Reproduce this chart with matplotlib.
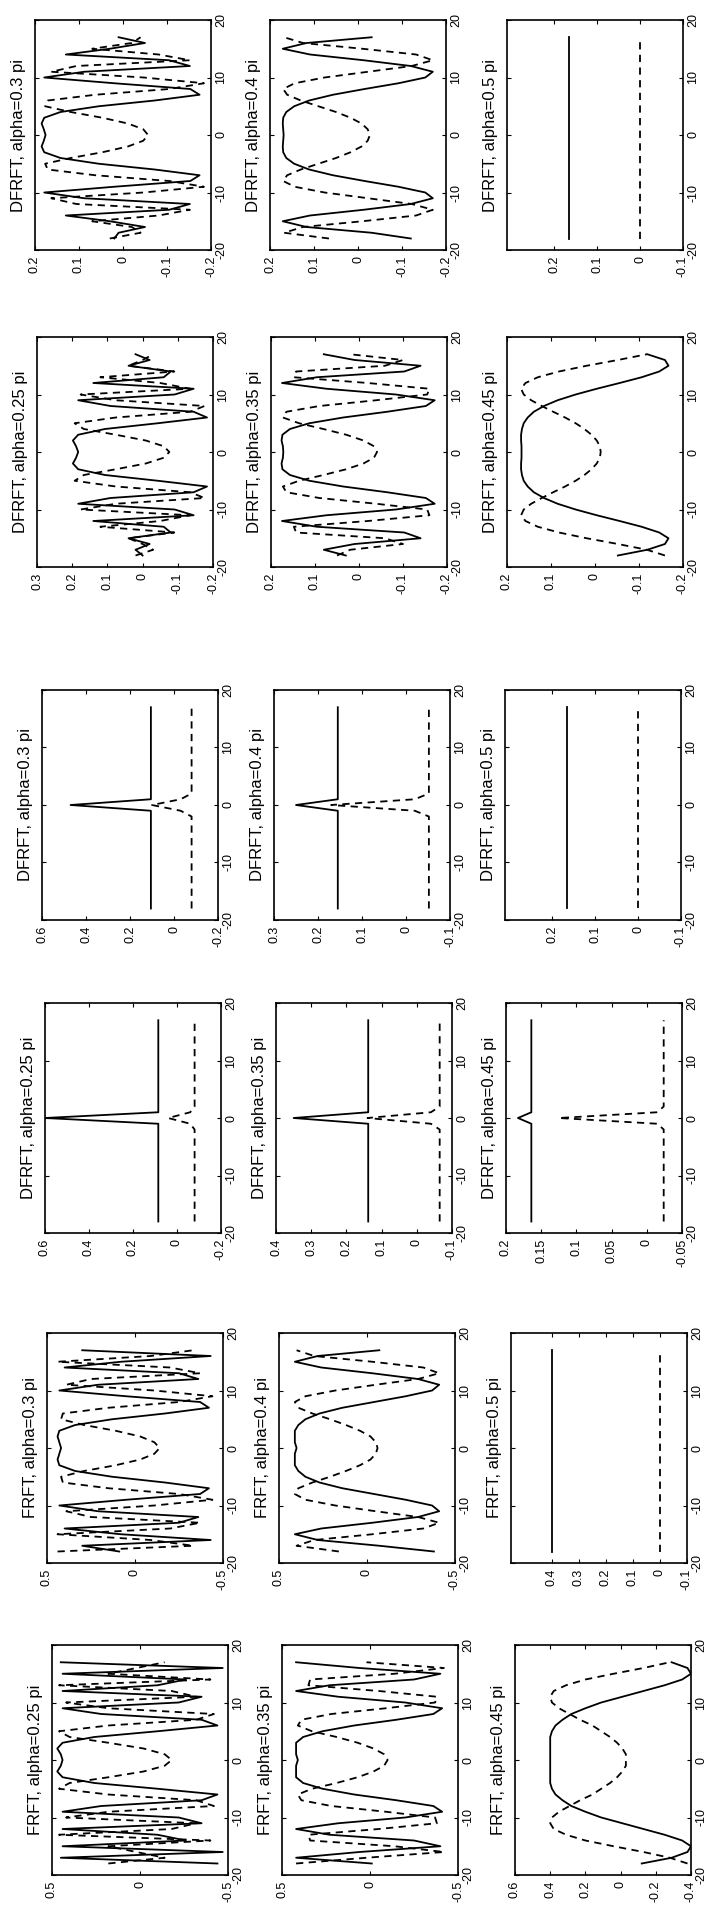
import numpy as np
import matplotlib.pyplot as plt

plt.rcParams['font.family'] = ['Liberation Sans', 'DejaVu Sans']

# sample index along the signal axis
x = list(range(-18, 18))

# ---- FRFT (continuous kernel), real = solid, imag = dashed ----
frft25_re = [-0.44, 0.45, -0.47, 0.44, -0.26, -0.10, 0.44, -0.35, -0.22, 0.44, 0.22, -0.35, -0.44, -0.10, 0.26, 0.44, 0.47, 0.45,
             0.44,
             0.45, 0.47, 0.44, 0.26, -0.10, -0.44, -0.35, 0.22, 0.44, -0.22, -0.35, 0.44, -0.10, -0.26, 0.44, -0.47, 0.45]
frft25_im = [0.18, -0.14, 0.02, 0.18, -0.40, 0.46, -0.18, -0.32, 0.42, 0.18, -0.42, -0.32, 0.18, 0.46, 0.40, 0.18, -0.02, -0.14,
             -0.18,
             -0.14, -0.02, 0.18, 0.40, 0.46, 0.18, -0.32, -0.42, 0.18, 0.42, -0.32, -0.18, 0.46, -0.40, 0.18, 0.02, -0.14]
frft30_re = [0.09, 0.30, -0.43, 0.08, 0.40, -0.25, -0.36, 0.21, 0.43, 0.05, -0.37, -0.42, -0.17, 0.13, 0.34, 0.43, 0.44, 0.43,
             0.42,
             0.43, 0.44, 0.43, 0.34, 0.13, -0.17, -0.42, -0.37, 0.05, 0.43, 0.21, -0.36, -0.25, 0.40, 0.08, -0.43, 0.30]
frft30_im = [0.44, -0.33, -0.09, 0.44, -0.20, -0.37, 0.25, 0.39, -0.11, -0.44, -0.25, 0.15, 0.41, 0.42, 0.29, 0.11, -0.03, -0.11,
             -0.14,
             -0.11, -0.03, 0.11, 0.29, 0.42, 0.41, 0.15, -0.25, -0.44, -0.11, 0.39, 0.25, -0.37, -0.20, 0.44, -0.09, -0.33]
frft35_re = [-0.01, 0.42, 0.06, -0.40, -0.25, 0.23, 0.42, 0.18, -0.20, -0.41, -0.36, -0.15, 0.09, 0.27, 0.38, 0.42, 0.42, 0.42,
             0.41,
             0.42, 0.42, 0.42, 0.38, 0.27, 0.09, -0.15, -0.36, -0.41, -0.20, 0.18, 0.42, 0.23, -0.25, -0.40, 0.06, 0.42]
frft35_im = [0.42, 0.02, -0.42, -0.14, 0.34, 0.35, -0.05, -0.38, -0.37, -0.09, 0.22, 0.39, 0.41, 0.33, 0.19, 0.07, -0.02, -0.08,
             -0.10,
             -0.08, -0.02, 0.07, 0.19, 0.33, 0.41, 0.39, 0.22, -0.09, -0.37, -0.38, -0.05, 0.35, 0.34, -0.14, -0.42, 0.02]
frft40_re = [-0.38, -0.07, 0.28, 0.41, 0.26, -0.03, -0.29, -0.41, -0.37, -0.22, -0.04, 0.14, 0.27, 0.35, 0.39, 0.41, 0.41, 0.41,
             0.40,
             0.41, 0.41, 0.41, 0.39, 0.35, 0.27, 0.14, -0.04, -0.22, -0.37, -0.41, -0.29, -0.03, 0.26, 0.41, 0.28, -0.07]
frft40_im = [0.16, 0.40, 0.30, -0.03, -0.32, -0.41, -0.29, -0.05, 0.18, 0.35, 0.41, 0.39, 0.31, 0.21, 0.12, 0.04, -0.02, -0.05,
             -0.06,
             -0.05, -0.02, 0.04, 0.12, 0.21, 0.31, 0.39, 0.41, 0.35, 0.18, -0.05, -0.29, -0.41, -0.32, -0.03, 0.30, 0.40]
frft45_re = [-0.12, -0.29, -0.38, -0.40, -0.35, -0.25, -0.13, -0.01, 0.11, 0.20, 0.28, 0.33, 0.37, 0.39, 0.40, 0.40, 0.40, 0.40,
             0.40,
             0.40, 0.40, 0.40, 0.40, 0.39, 0.37, 0.33, 0.28, 0.20, 0.11, -0.01, -0.13, -0.25, -0.35, -0.40, -0.38, -0.29]
frft45_im = [-0.38, -0.28, -0.13, 0.04, 0.20, 0.31, 0.38, 0.40, 0.39, 0.35, 0.29, 0.23, 0.16, 0.11, 0.06, 0.02, -0.01, -0.03,
             -0.03,
             -0.03, -0.01, 0.02, 0.06, 0.11, 0.16, 0.23, 0.29, 0.35, 0.39, 0.40, 0.38, 0.31, 0.20, 0.04, -0.13, -0.28]
frft50_re = [0.40] * 36
frft50_im = [0.0] * 36

# ---- DFRFT, first kind (spike + flat) ----
dsp25_re = [0.085] * 18 + [0.60] + [0.085] * 17
dsp25_im = [-0.08] * 17 + [-0.06, 0.04, -0.06] + [-0.08] * 16
dsp30_re = [0.105] * 18 + [0.47] + [0.105] * 17
dsp30_im = [-0.08] * 17 + [-0.03, 0.10, -0.03] + [-0.08] * 16
dsp35_re = [0.138] * 18 + [0.35] + [0.138] * 17
dsp35_im = [-0.065] * 17 + [-0.04, 0.14, -0.04] + [-0.065] * 16
dsp40_re = [0.155] * 18 + [0.25] + [0.155] * 17
dsp40_im = [-0.052] * 17 + [-0.02, 0.17, -0.02] + [-0.052] * 16
dsp45_re = [0.164] * 18 + [0.183] + [0.164] * 17
dsp45_im = [-0.024] * 17 + [-0.015, 0.125, -0.015] + [-0.024] * 16
dflat_re = [0.1667] * 36
dflat_im = [0.0] * 36

# ---- DFRFT, second kind (chirp-like) ----
dch25_re = [0.000, 0.020, -0.020, 0.040, -0.080, -0.060, 0.140, -0.145, -0.091, 0.183, 0.091, -0.145, -0.183, -0.043, 0.107, 0.183, 0.198, 0.189,
            0.183,
            0.189, 0.198, 0.183, 0.107, -0.043, -0.183, -0.145, 0.091, 0.183, -0.091, -0.145, 0.140, -0.060, -0.080, 0.040, -0.020, 0.020]
dch25_im = [0.020, -0.030, 0.000, 0.040, -0.090, 0.120, -0.050, -0.135, 0.176, 0.076, -0.176, -0.135, 0.076, 0.193, 0.167, 0.076, -0.009, -0.060,
            -0.076,
            -0.060, -0.009, 0.076, 0.167, 0.193, 0.076, -0.135, -0.176, 0.076, 0.176, -0.135, -0.050, 0.120, -0.090, 0.040, 0.000, -0.030]
dch30_re = [0.020, 0.010, -0.050, 0.030, 0.130, -0.105, -0.152, 0.088, 0.179, 0.020, -0.153, -0.174, -0.072, 0.055, 0.142, 0.179, 0.185, 0.180,
            0.176,
            0.180, 0.185, 0.179, 0.142, 0.055, -0.072, -0.174, -0.153, 0.020, 0.179, 0.088, -0.152, -0.105, 0.130, 0.030, -0.050, 0.010]
dch30_im = [0.030, -0.040, -0.020, 0.070, -0.081, -0.152, 0.106, 0.163, -0.047, -0.184, -0.105, 0.063, 0.171, 0.177, 0.119, 0.047, -0.011, -0.046,
            -0.057,
            -0.046, -0.011, 0.047, 0.119, 0.177, 0.171, 0.063, -0.105, -0.184, -0.047, 0.163, 0.106, -0.152, -0.081, 0.070, -0.020, -0.040]
dch35_re = [0.030, 0.080, 0.010, -0.140, -0.103, 0.096, 0.175, 0.074, -0.084, -0.172, -0.152, -0.064, 0.036, 0.113, 0.157, 0.174, 0.176, 0.173,
            0.172,
            0.173, 0.176, 0.174, 0.157, 0.113, 0.036, -0.064, -0.152, -0.172, -0.084, 0.074, 0.175, 0.096, -0.103, -0.140, 0.010, 0.080]
dch35_im = [0.050, 0.020, -0.100, -0.059, 0.143, 0.148, -0.020, -0.160, -0.155, -0.039, 0.090, 0.165, 0.173, 0.136, 0.081, 0.029, -0.010, -0.034,
            -0.041,
            -0.034, -0.010, 0.029, 0.081, 0.136, 0.173, 0.165, 0.090, -0.039, -0.155, -0.160, -0.020, 0.148, 0.143, -0.059, -0.100, 0.020]
dch40_re = [-0.120, -0.031, 0.117, 0.171, 0.109, -0.013, -0.120, -0.170, -0.153, -0.092, -0.015, 0.057, 0.111, 0.145, 0.163, 0.170, 0.171, 0.170,
            0.169,
            0.170, 0.171, 0.170, 0.163, 0.145, 0.111, 0.057, -0.015, -0.092, -0.153, -0.170, -0.120, -0.013, 0.109, 0.171, 0.117, -0.031]
dch40_im = [0.066, 0.168, 0.125, -0.010, -0.132, -0.170, -0.122, -0.023, 0.076, 0.144, 0.170, 0.161, 0.130, 0.090, 0.050, 0.017, -0.008, -0.022,
            -0.027,
            -0.022, -0.008, 0.017, 0.050, 0.090, 0.130, 0.161, 0.170, 0.144, 0.076, -0.023, -0.122, -0.170, -0.132, -0.010, 0.125, 0.168]
dch45_re = [-0.052, -0.119, -0.159, -0.167, -0.146, -0.106, -0.056, -0.004, 0.044, 0.085, 0.116, 0.139, 0.153, 0.162, 0.166, 0.168, 0.168, 0.167,
            0.167,
            0.167, 0.168, 0.168, 0.166, 0.162, 0.153, 0.139, 0.116, 0.085, 0.044, -0.004, -0.056, -0.106, -0.146, -0.167, -0.159, -0.119]
dch45_im = [-0.159, -0.118, -0.052, 0.019, 0.082, 0.130, 0.158, 0.168, 0.162, 0.145, 0.121, 0.095, 0.068, 0.044, 0.024, 0.008, -0.004, -0.011,
            -0.013,
            -0.011, -0.004, 0.008, 0.024, 0.044, 0.068, 0.095, 0.121, 0.145, 0.162, 0.168, 0.158, 0.130, 0.082, 0.019, -0.052, -0.118]

x_ticks = [-20, -10, 0, 10, 20]

# (title, solid, dashed, value range (left, right), value ticks) per row, 3 columns each
panels = [
    [("DFRFT, alpha=0.3 pi", dch30_re, dch30_im, (0.2, -0.2), [0.2, 0.1, 0, -0.1, -0.2]),
     ("DFRFT, alpha=0.4 pi", dch40_re, dch40_im, (0.2, -0.2), [0.2, 0.1, 0, -0.1, -0.2]),
     ("DFRFT, alpha=0.5 pi", dflat_re, dflat_im, (0.31, -0.1), [0.2, 0.1, 0, -0.1])],
    [("DFRFT, alpha=0.25 pi", dch25_re, dch25_im, (0.3, -0.2), [0.3, 0.2, 0.1, 0, -0.1, -0.2]),
     ("DFRFT, alpha=0.35 pi", dch35_re, dch35_im, (0.2, -0.2), [0.2, 0.1, 0, -0.1, -0.2]),
     ("DFRFT, alpha=0.45 pi", dch45_re, dch45_im, (0.2, -0.2), [0.2, 0.1, 0, -0.1, -0.2])],
    [("DFRFT, alpha=0.3 pi", dsp30_re, dsp30_im, (0.6, -0.2), [0.6, 0.4, 0.2, 0, -0.2]),
     ("DFRFT, alpha=0.4 pi", dsp40_re, dsp40_im, (0.3, -0.1), [0.3, 0.2, 0.1, 0, -0.1]),
     ("DFRFT, alpha=0.5 pi", dflat_re, dflat_im, (0.31, -0.1), [0.2, 0.1, 0, -0.1])],
    [("DFRFT, alpha=0.25 pi", dsp25_re, dsp25_im, (0.6, -0.2), [0.6, 0.4, 0.2, 0, -0.2]),
     ("DFRFT, alpha=0.35 pi", dsp35_re, dsp35_im, (0.4, -0.1), [0.4, 0.3, 0.2, 0.1, 0, -0.1]),
     ("DFRFT, alpha=0.45 pi", dsp45_re, dsp45_im, (0.2, -0.05), [0.2, 0.15, 0.1, 0.05, 0, -0.05])],
    [("FRFT, alpha=0.3 pi", frft30_re, frft30_im, (0.5, -0.5), [0.5, 0, -0.5]),
     ("FRFT, alpha=0.4 pi", frft40_re, frft40_im, (0.5, -0.5), [0.5, 0, -0.5]),
     ("FRFT, alpha=0.5 pi", frft50_re, frft50_im, (0.55, -0.1), [0.4, 0.3, 0.2, 0.1, 0, -0.1])],
    [("FRFT, alpha=0.25 pi", frft25_re, frft25_im, (0.5, -0.5), [0.5, 0, -0.5]),
     ("FRFT, alpha=0.35 pi", frft35_re, frft35_im, (0.5, -0.5), [0.5, 0, -0.5]),
     ("FRFT, alpha=0.45 pi", frft45_re, frft45_im, (0.6, -0.4), [0.6, 0.4, 0.2, 0, -0.2, -0.4])],
]

# panel boxes in pixels of the (rotated) page
W, H = 715, 1913
row_top = [20, 337, 690, 1003, 1333, 1645]
col_left = [[35, 270, 507], [37, 271, 507], [42, 274, 505],
            [45, 276, 506], [47, 279, 511], [52, 282, 515]]
pw, ph = 176, 230

fig = plt.figure(figsize=(W / 100, H / 100), dpi=100)

for r in range(6):
    for c in range(3):
        title, solid, dashed, vlim, vticks = panels[r][c]
        left = col_left[r][c]
        top = row_top[r]
        ax = fig.add_axes([left / W, 1 - (top + ph) / H, pw / W, ph / H])
        ax.plot(solid, x, color='black', lw=1.3)
        ax.plot(dashed, x, color='black', lw=1.3, dashes=(4, 3))
        ax.set_xlim(*vlim)
        ax.set_ylim(-20, 20)
        ax.set_xticks(vticks)
        ax.set_xticklabels(['%g' % v for v in vticks], rotation=90, ha='center', va='top')
        ax.set_yticks(x_ticks)
        ax.set_yticklabels(['%g' % v for v in x_ticks], rotation=90, ha='left', va='center')
        ax.tick_params(direction='in', length=3, width=0.8, labelsize=9,
                       top=True, bottom=True, left=True, right=True,
                       labelleft=False, labelright=True, pad=3)
        ax.tick_params(axis='x', pad=4)
        for s in ax.spines.values():
            s.set_linewidth(1.2)
        ax.text(-0.05, 0.5, title, transform=ax.transAxes, rotation=90,
                ha='right', va='center', fontsize=12)

fig.savefig('out.png', dpi=100)
